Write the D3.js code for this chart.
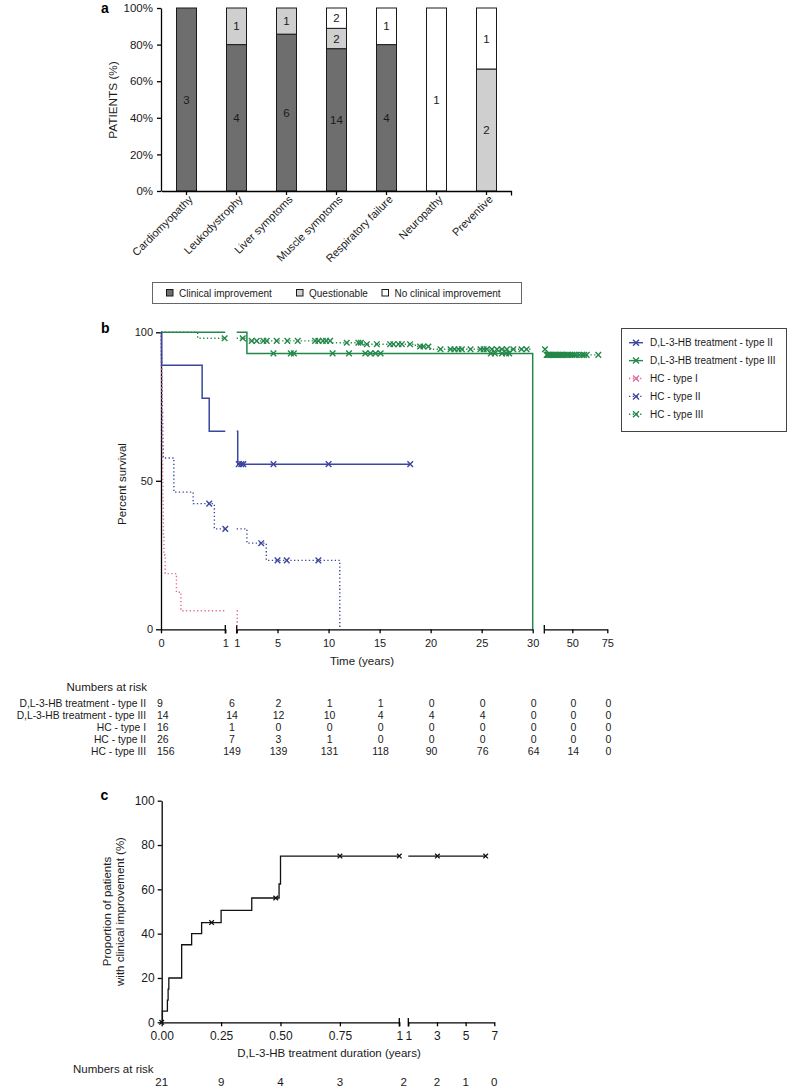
<!DOCTYPE html>
<html><head><meta charset="utf-8">
<script src="https://cdn.jsdelivr.net/npm/d3@7"></script>
<style>
body{margin:0;background:#fff;}
svg{display:block;font-family:"Liberation Sans",Arial,Helvetica,sans-serif;}
</style></head><body>
<svg id="chart" width="787" height="1086"></svg>
<script>
// ---------------- DATA: panel a ----------------
const categories = ["Cardiomyopathy","Leukodystrophy","Liver symptoms","Muscle symptoms","Respiratory failure","Neuropathy","Preventive"];
const improvement   = [3,4,6,14,4,0,0];
const questionable  = [0,1,1,2,0,0,2];
const noImprovement = [0,0,0,2,1,1,1];
const pctTicks = [0,20,40,60,80,100];
const legendA = ["Clinical improvement","Questionable","No clinical improvement"];

// ---------------- DATA: panel b ----------------
const seriesB = ["D,L-3-HB treatment - type II","D,L-3-HB treatment - type III","HC - type I","HC - type II","HC - type III"];
const stepsDL2 = [[0,100],[0.01,88.9],[0.64,77.8],[0.75,66.7],[1.1,55.6]];
const endDL2 = 18;
const censorDL2 = [1.2,1.45,1.65,4.6,10,18];
const stepsDL3 = [[0,100],[2,92.9],[30,0]];
const endDL3 = 30;
const censorDL3 = [4.6,6.3,6.6,10.4,12,13.6,14.1,14.6,15.1,25.9,26.3,27.0,27.4,27.7];
const stepsHC1 = [[0,100],[0.004,93.75],[0.008,87.5],[0.011,81.25],[0.014,75],[0.017,68.75],[0.02,62.5],[0.023,56.25],[0.026,50],[0.03,43.75],[0.034,37.5],[0.038,31.25],[0.045,25],[0.065,18.75],[0.24,12.5],[0.31,6.25],[1.05,0]];
const endHC1 = 1.05;
const censorHC1 = [];
const stepsHC2 = [[0,100],[0.003,96.2],[0.006,92.3],[0.009,88.5],[0.012,84.6],[0.015,80.8],[0.018,76.9],[0.021,73.1],[0.024,69.2],[0.027,65.4],[0.03,61.5],[0.035,57.7],[0.2,46.2],[0.5,42.3],[0.83,33.8],[2,29.0],[3.9,23.2],[11.1,0]];
const endHC2 = 11.1;
const censorHC2 = [0.75,1.0,3.4,5.0,5.9,9.0];
const stepsHC3 = [[0,100],[0.57,98.0],[1.8,97.1],[10.3,96.5],[13.5,96.0],[18.5,95.2],[19.9,94.3],[31,92.4]];
const endHC3 = 68.6;
const censorHC3 = [0.99,1.59,2.47,2.96,3.61,3.94,4.92,5.96,6.98,8.68,9.0,9.44,9.76,10.15,
  11.78,12.92,13.16,13.75,14.73,16.03,16.35,16.84,17.18,17.98,18.97,19.29,19.78,
  20.97,21.95,22.34,22.73,23.06,23.91,24.88,25.2,25.5,26,26.5,26.98,27.47,28.1,28.9,29.4,
  30.5,31.7,32.5,33.3,34.2,35,36,37,38,39,40,41,42,43,44.5,46,47,48.5,50,51.5,53,55,57,58.5,60.3,68.6];
const riskTimesB = [0,1,5,10,15,20,25,30,50,75];
const riskDL2 = [9,6,2,1,1,0,0,0,0,0];
const riskDL3 = [14,14,12,10,4,4,4,0,0,0];
const riskHC1 = [16,1,0,0,0,0,0,0,0,0];
const riskHC2 = [26,7,3,1,0,0,0,0,0,0];
const riskHC3 = [156,149,139,131,118,90,76,64,14,0];
const ticksB1 = [0,1], ticksB2 = [1,5,10,15,20,25,30], ticksB3 = [50,75];
const yTicksB = [0,50,100];

// ---------------- DATA: panel c ----------------
const stepsC = [[0,0],[0.003,5],[0.024,10],[0.027,15],[0.03,20],[0.084,35],[0.126,40],[0.168,45],[0.25,50.5],[0.379,56.1],[0.494,62.4],[0.5,75]];
const endC = 6.4;
const censorC = [0,0.21,0.48,0.75,1.0,3.03,6.4];
const ticksC1 = [0,0.25,0.5,0.75,1], ticksC2 = [1,3,5,7];
const yTicksC = [0,20,40,60,80,100];
const riskTimesC = [0,0.25,0.5,0.75,1,3,5,7];
const riskC = [21,9,4,3,2,2,1,0];

// ---------------- helpers ----------------
const svg = d3.select("#chart");
function styleAxis(g, fs){
  g.attr("font-family", null).attr("font-size", fs);
  g.selectAll("path.domain").attr("stroke","#000").attr("stroke-width",1.3);
  g.selectAll(".tick line").attr("stroke","#000").attr("stroke-width",1.3);
  g.selectAll(".tick text").attr("fill","#1a1a1a");
}
function valAt(steps, t){ let v = steps[0][1]; for (const s of steps) if (s[0] <= t) v = s[1]; return v; }
function stepPoints(steps, end, a, b){
  if (end <= a) return null;
  const lo = Math.max(a, steps[0][0]), hi = Math.min(b, end);
  const pts = [[lo, valAt(steps, lo)]];
  steps.forEach(s => { if (s[0] > lo && s[0] <= hi) pts.push(s); });
  if (pts[pts.length-1][0] < hi) pts.push([hi, valAt(steps, hi)]);
  return pts;
}
const xMark = s => `M${-s},${-s}L${s},${s}M${-s},${s}L${s},${-s}`;

// ================= PANEL A =================
const gA = svg.append("g");
const rowsA = categories.map((c,i)=>{
  const tot = improvement[i]+questionable[i]+noImprovement[i];
  return {cat:c, counts:[improvement[i],questionable[i],noImprovement[i]],
    imp:improvement[i]/tot*100, q:questionable[i]/tot*100, no:noImprovement[i]/tot*100};
});
const stackA = d3.stack().keys(["imp","q","no"])(rowsA);
const fillA = ["#6e6e6e","#cfcfcf","#ffffff"];
const xA = d3.scaleBand().domain(categories).range([161.5,511.5]).paddingInner(0.6).paddingOuter(0.3);
const yA = d3.scaleLinear().domain([0,100]).range([191,8]);

stackA.forEach((layer,li)=>{
  const g = gA.append("g");
  layer.forEach(p=>{
    if (p[1]-p[0] <= 0) return;
    g.append("rect").attr("x",xA(p.data.cat)).attr("width",xA.bandwidth())
      .attr("y",yA(p[1])).attr("height",yA(p[0])-yA(p[1]))
      .attr("fill",fillA[li]).attr("stroke","#1a1a1a").attr("stroke-width",1);
    g.append("text").attr("x",xA(p.data.cat)+xA.bandwidth()/2).attr("y",yA((p[0]+p[1])/2))
      .attr("dy","0.36em").attr("text-anchor","middle").attr("font-size",11.5).attr("fill","#1a1a1a")
      .text(p.data.counts[li]);
  });
});
const axYA = gA.append("g").attr("transform","translate(161,0)")
  .call(d3.axisLeft(yA).tickValues(pctTicks).tickFormat(d=>d+"%").tickSize(4).tickPadding(4).tickSizeOuter(0));
styleAxis(axYA,11.5);
const axXA = gA.append("g").attr("transform","translate(0,191)")
  .call(d3.axisBottom(xA).tickSize(4).tickSizeOuter(0).tickFormat(""));
styleAxis(axXA,11);
gA.append("line").attr("x1",xA.range()[1]).attr("x2",xA.range()[1]).attr("y1",191).attr("y2",195.5)
  .attr("stroke","#000").attr("stroke-width",1.3);
gA.append("g").selectAll("text").data(categories).join("text")
  .attr("transform",d=>`translate(${xA(d)+xA.bandwidth()/2+7},${200}) rotate(-45)`)
  .attr("text-anchor","end").attr("font-size",11).attr("fill","#1a1a1a").text(d=>d);
gA.append("text").attr("transform","translate(116.5,100) rotate(-90)").attr("text-anchor","middle")
  .attr("font-size",11.8).attr("fill","#1a1a1a").text("PATIENTS (%)");
gA.append("text").attr("x",101).attr("y",13).attr("font-size",14).attr("font-weight","bold").text("a");
// legend a
gA.append("rect").attr("x",152.5).attr("y",282.5).attr("width",369).attr("height",21)
  .attr("fill","none").attr("stroke","#666").attr("stroke-width",1);
const legAx = [166.5,296.5,382];
legendA.forEach((t,i)=>{
  gA.append("rect").attr("x",legAx[i]).attr("y",289.5).attr("width",6.5).attr("height",6.5)
    .attr("fill",fillA[i]).attr("stroke","#1a1a1a").attr("stroke-width",1);
  gA.append("text").attr("x",legAx[i]+12.5).attr("y",296.5).attr("font-size",10).attr("fill","#1a1a1a").text(t);
});

// ================= PANEL B =================
const gB = svg.append("g");
const yB = d3.scaleLinear().domain([0,100]).range([629.3,332.3]);
const segB = [
  {dom:[0,1],  rng:[161,225.3],  ticks:ticksB1, capStart:false, capEnd:true},
  {dom:[1,30], rng:[236.7,532.7], ticks:ticksB2, capStart:true, capEnd:false},
  {dom:[30,75],rng:[544.3,607.3], ticks:ticksB3, capStart:true, capEnd:false}
];
segB.forEach(s=>{
  s.x = d3.scaleLinear().domain(s.dom).range(s.rng);
  const ax = gB.append("g").attr("transform","translate(0,629.3)")
    .call(d3.axisBottom(s.x).tickValues(s.ticks).tickFormat(d3.format("d")).tickSize(4).tickPadding(6).tickSizeOuter(0));
  styleAxis(ax,11);
  if (s.capStart) gB.append("line").attr("x1",s.x(s.dom[0])).attr("x2",s.x(s.dom[0])).attr("y1",625).attr("y2",633.5).attr("stroke","#000").attr("stroke-width",1.3);
  if (s.capEnd) gB.append("line").attr("x1",s.x(s.dom[1])).attr("x2",s.x(s.dom[1])).attr("y1",625).attr("y2",633.5).attr("stroke","#000").attr("stroke-width",1.3);
});
const axYB = gB.append("g").attr("transform","translate(161,0)")
  .call(d3.axisLeft(yB).tickValues(yTicksB).tickSize(5).tickPadding(3).tickSizeOuter(0));
styleAxis(axYB,11);
const segOf = t => t <= 1 ? segB[0] : (t <= 30 ? segB[1] : segB[2]);

const BLUE="#3a46a0", GREEN="#23884a", PINK="#df6a9f";
const series = [
  {name:seriesB[4], steps:stepsHC3, end:endHC3, censor:censorHC3, color:GREEN, dotted:true},
  {name:seriesB[3], steps:stepsHC2, end:endHC2, censor:censorHC2, color:BLUE, dotted:true},
  {name:seriesB[2], steps:stepsHC1, end:endHC1, censor:censorHC1, color:PINK, dotted:true},
  {name:seriesB[1], steps:stepsDL3, end:endDL3, censor:censorDL3, color:GREEN, dotted:false},
  {name:seriesB[0], steps:stepsDL2, end:endDL2, censor:censorDL2, color:BLUE, dotted:false}
];
series.forEach(sr=>{
  segB.forEach(sg=>{
    const pts = stepPoints(sr.steps, sr.end, sg.dom[0], sg.dom[1]);
    if (!pts) return;
    gB.append("path").attr("d", d3.line().x(d=>sg.x(d[0])).y(d=>yB(d[1])).curve(d3.curveStepAfter)(pts))
      .attr("fill","none").attr("stroke",sr.color).attr("stroke-width",sr.dotted?1.4:1.5)
      .attr("stroke-dasharray",sr.dotted?"1.3,2.4":null);
  });
  sr.censor.forEach(t=>{
    const sg = segOf(t);
    gB.append("path").attr("d",xMark(2.8))
      .attr("transform",`translate(${sg.x(t)},${yB(valAt(sr.steps,t))})`)
      .attr("stroke",sr.color).attr("stroke-width",1.4).attr("fill","none");
  });
});
gB.append("text").attr("x",362).attr("y",665).attr("text-anchor","middle").attr("font-size",11.5).attr("fill","#1a1a1a").text("Time (years)");
gB.append("text").attr("transform","translate(125.5,484) rotate(-90)").attr("text-anchor","middle")
  .attr("font-size",11.5).attr("fill","#1a1a1a").text("Percent survival");
gB.append("text").attr("x",101).attr("y",333).attr("font-size",14).attr("font-weight","bold").text("b");
// legend b
gB.append("rect").attr("x",621.5).attr("y",328.5).attr("width",165).attr("height",103)
  .attr("fill","#fff").attr("stroke","#444").attr("stroke-width",1);
const legOrder = [series[4],series[3],series[2],series[1],series[0]];
legOrder.forEach((sr,i)=>{
  const yy = 342.7 + i*17.9;
  gB.append("line").attr("x1",629).attr("x2",643).attr("y1",yy).attr("y2",yy)
    .attr("stroke",sr.color).attr("stroke-width",1.4).attr("stroke-dasharray",sr.dotted?"1.3,2.4":null);
  gB.append("path").attr("d",xMark(3)).attr("transform",`translate(636,${yy})`)
    .attr("stroke",sr.color).attr("stroke-width",1.4).attr("fill","none");
  gB.append("text").attr("x",650).attr("y",yy+3.6).attr("font-size",10).attr("fill","#1a1a1a").text(sr.name);
});
// numbers at risk b
gB.append("text").attr("x",147).attr("y",690.5).attr("text-anchor","end").attr("font-size",11.5).attr("fill","#1a1a1a").text("Numbers at risk");
const riskRowsB = [riskDL2,riskDL3,riskHC1,riskHC2,riskHC3];
const riskX = t => t === 0 ? null : (t === 1 ? (segB[0].x(1)+segB[1].x(1))/2 : segOf(t).x(t));
riskRowsB.forEach((row,ri)=>{
  const yy = 707.3 + ri*11.8;
  gB.append("text").attr("x",146).attr("y",yy).attr("text-anchor","end").attr("font-size",10.3).attr("fill","#1a1a1a").text(seriesB[ri]);
  row.forEach((v,ci)=>{
    const t = riskTimesB[ci];
    const isFirst = t === 0;
    gB.append("text").attr("x",isFirst?157:riskX(t)+1).attr("y",yy)
      .attr("text-anchor",isFirst?"start":"middle").attr("font-size",10.5).attr("fill","#1a1a1a").text(v);
  });
});

// ================= PANEL C =================
const gC = svg.append("g");
const yC = d3.scaleLinear().domain([0,100]).range([1022.3,800.7]);
const segC = [
  {dom:[0,1], rng:[161.7,399.3], ticks:ticksC1, fmt:d=>d===1?"1":d3.format(".2f")(d), capStart:false, capEnd:true},
  {dom:[1,7], rng:[408.3,494.3], ticks:ticksC2, fmt:d3.format("d"), capStart:true, capEnd:false}
];
segC.forEach(s=>{
  s.x = d3.scaleLinear().domain(s.dom).range(s.rng);
  const ax = gC.append("g").attr("transform","translate(0,1022.3)")
    .call(d3.axisBottom(s.x).tickValues(s.ticks).tickFormat(s.fmt).tickSize(4).tickPadding(5).tickSizeOuter(0));
  styleAxis(ax,12);
  if (s.capStart) gC.append("line").attr("x1",s.x(s.dom[0])).attr("x2",s.x(s.dom[0])).attr("y1",1018).attr("y2",1026.5).attr("stroke","#000").attr("stroke-width",1.3);
  if (s.capEnd) gC.append("line").attr("x1",s.x(s.dom[1])).attr("x2",s.x(s.dom[1])).attr("y1",1018).attr("y2",1026.5).attr("stroke","#000").attr("stroke-width",1.3);
});
const axYC = gC.append("g").attr("transform","translate(161.7,0)")
  .call(d3.axisLeft(yC).tickValues(yTicksC).tickSize(4).tickPadding(3).tickSizeOuter(0));
styleAxis(axYC,12);
const segOfC = t => t <= 1 ? segC[0] : segC[1];
segC.forEach(sg=>{
  const pts = stepPoints(stepsC, endC, sg.dom[0], sg.dom[1]);
  if (!pts) return;
  gC.append("path").attr("d", d3.line().x(d=>sg.x(d[0])).y(d=>yC(d[1])).curve(d3.curveStepAfter)(pts))
    .attr("fill","none").attr("stroke","#111").attr("stroke-width",1.3);
});
censorC.forEach(t=>{
  const sg = segOfC(t);
  gC.append("path").attr("d",xMark(2.3)).attr("transform",`translate(${sg.x(t)},${yC(valAt(stepsC,t))})`)
    .attr("stroke","#111").attr("stroke-width",1.3).attr("fill","none");
});
gC.append("text").attr("x",329).attr("y",1057).attr("text-anchor","middle").attr("font-size",11.5).attr("fill","#1a1a1a").text("D,L-3-HB treatment duration (years)");
gC.append("text").attr("transform","translate(110.7,911.5) rotate(-90)").attr("text-anchor","middle")
  .attr("font-size",11.5).attr("fill","#1a1a1a").text("Proportion of patients");
gC.append("text").attr("transform","translate(124,911.5) rotate(-90)").attr("text-anchor","middle")
  .attr("font-size",11.5).attr("fill","#1a1a1a").text("with clinical improvement (%)");
gC.append("text").attr("x",100.5).attr("y",800).attr("font-size",14).attr("font-weight","bold").text("c");
gC.append("text").attr("x",73).attr("y",1073).attr("font-size",11.5).attr("fill","#1a1a1a").text("Numbers at risk");
riskC.forEach((v,i)=>{
  const t = riskTimesC[i];
  const x = t === 1 ? (segC[0].x(1)+segC[1].x(1))/2 : segOfC(t).x(t);
  gC.append("text").attr("x",x).attr("y",1085.5).attr("text-anchor","middle").attr("font-size",11.5).attr("fill","#1a1a1a").text(v);
});
</script></body></html>
